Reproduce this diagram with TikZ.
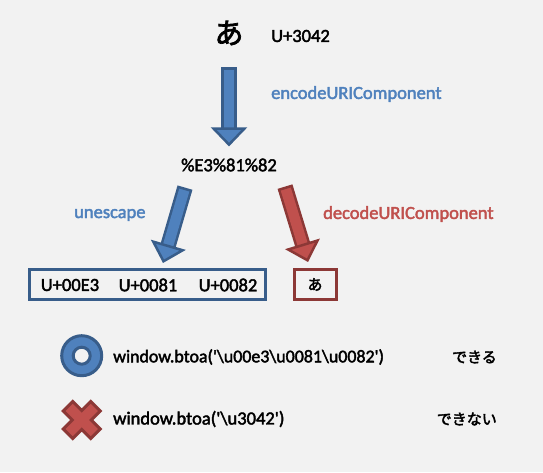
\documentclass[tikz,border=0pt]{standalone}
\usepackage{fontspec}
\setmainfont{Carlito}[FakeBold=2.2]
\newfontfamily\cjk{Noto Sans CJK JP}[FakeBold=2.5]
\usepackage{xcolor}
\usetikzlibrary{calc,arrows.meta,positioning}
\definecolor{paper}{HTML}{F2F2F2}
\definecolor{bluefill}{HTML}{4F81BD}
\definecolor{blueline}{HTML}{385D8A}
\definecolor{redfill}{HTML}{C0504D}
\definecolor{redline}{HTML}{8C3836}

\begin{document}
\begin{tikzpicture}[x=1pt, y=-1pt,
			caption/.style={font=\fontsize{18.5}{20}\selectfont, inner sep=0pt},
			kana/.style={font=\cjk\fontsize{15}{18}\selectfont, inner sep=0pt},
			codebox/.style={draw, line width=3pt, minimum height=30pt, inner sep=0pt},
			bluearrow/.style={draw=blueline, line width=2.5pt, double=bluefill, double distance=10.5pt,
				{Bar[width=15.5pt, line width=2.5pt, sep=0pt]}-{Triangle[length=19pt, width=36pt, line width=2.5pt, fill=bluefill, color=blueline]}},
			redarrow/.style={draw=redline, line width=2.5pt, double=redfill, double distance=10.5pt,
				{Bar[width=15.5pt, line width=2.5pt, sep=0pt]}-{Triangle[length=19pt, width=36pt, line width=2.5pt, fill=redfill, color=redline]}}
			]
			\useasboundingbox (0,0) rectangle (543,472);
			\fill[paper] (0,0) rectangle (543,472);
			
			\node [font=\cjk\fontsize{29}{30}\selectfont, inner sep=0pt](ja) at (229,33) {あ};
			\node [caption, anchor=west](ucode) at (271,36) {U+3042};
			\node [caption, below of=ja, node distance=132pt](pct) {\%E3\%81\%82};
			\node [caption, anchor=west, text=bluefill](encode) at (271,94) {encodeURIComponent};
			\node [caption, anchor=west, text=bluefill](unesc) at (74,215) {unescape};
			\node [caption, anchor=west, text=redfill](decode) at (323,214) {decodeURIComponent};
			
			\node [codebox, draw=blueline, minimum width=236pt](ubox) at (147.5,284.5) {};
			\node [codebox, draw=redline, minimum width=42pt](jbox) at (315,284.5) {};
			\node [caption](u1) at (70,285) {U+00E3};
			\node [caption](u2) at (148,285) {U+0081};
			\node [caption](u3) at (228,285) {U+0082};
			\node [kana](j1) at (jbox) {あ};
			
			\draw[bluearrow, shorten <=22pt, shorten >=12pt] (ja.south) -- (pct.north);
			\draw[bluearrow] ([xshift=-44pt,yshift=-16pt]pct.south) -- ([xshift=15.5pt,yshift=5pt]ubox.north);
			\draw[redarrow] ([xshift=56pt,yshift=-15pt]pct.south) -- ([xshift=-7pt,yshift=6pt]jbox.north);
			
			\node [circle, draw=blueline, fill=bluefill, line width=3pt, minimum size=40pt](okmark) at (81.7,355.7) {};
			\node [circle, draw=blueline, fill=paper, line width=3pt, minimum size=17pt](okhole) at (okmark) {};
			\coordinate (ngmark) at (81.7,420);
			\draw[draw=redline, fill=redfill, line width=3pt, shift={(ngmark)}]
				(-9,-18.5) -- (0,-9.5) -- (9,-18.5) -- (18.5,-9) -- (9.5,0) -- (18.5,9) -- (9,18.5)
				-- (0,9.5) -- (-9,18.5) -- (-18.5,9) -- (-9.5,0) -- (-18.5,-9) -- cycle;
			
			\node [caption, font=\fontsize{17.9}{20}\selectfont, anchor=west](win1) at (113,357) {window.btoa(\textquotesingle\textbackslash u00e3\textbackslash u0081\textbackslash u0082\textquotesingle)};
			\node [caption, anchor=west](win2) at (113,419) {window.btoa(\textquotesingle\textbackslash u3042\textquotesingle)};
			\node [kana, anchor=east](can) at (497,357) {できる};
			\node [kana, anchor=east](cannot) at (497,419) {できない};
			
		\end{tikzpicture}
\end{document}
